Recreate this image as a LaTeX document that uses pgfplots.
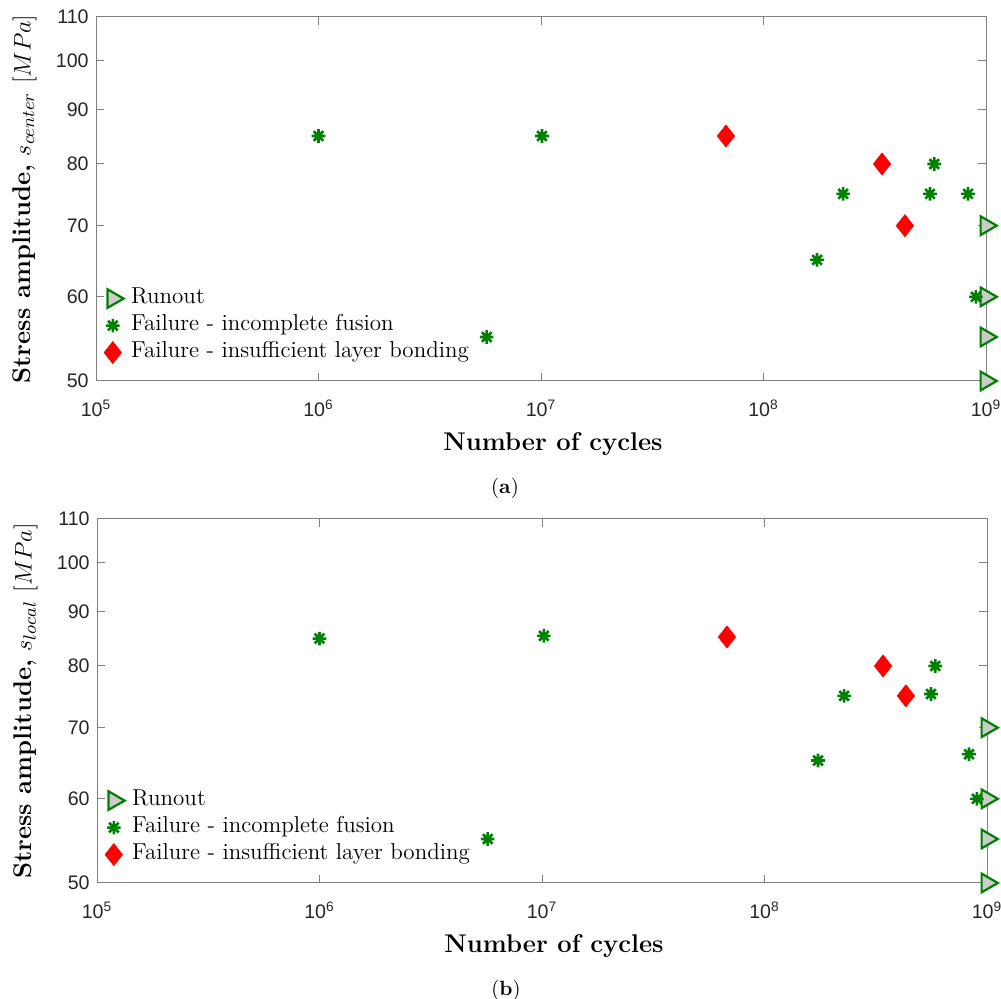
\documentclass[border=0pt]{standalone}
\usepackage{fontspec}
\newfontfamily\ticksf{Liberation Sans}
\usepackage{pgfplots}
\pgfplotsset{compat=1.18}

\definecolor{mgreen}{rgb}{0,0.5,0}
\definecolor{axgray}{rgb}{0.5,0.5,0.5}
\definecolor{tickgray}{rgb}{0.15,0.15,0.15}

% 8-armed asterisk like the MATLAB '*' marker
\pgfdeclareplotmark{ast8}{%
  \pgfpathmoveto{\pgfqpoint{-\pgfplotmarksize}{0pt}}\pgfpathlineto{\pgfqpoint{\pgfplotmarksize}{0pt}}%
  \pgfpathmoveto{\pgfqpoint{0pt}{-\pgfplotmarksize}}\pgfpathlineto{\pgfqpoint{0pt}{\pgfplotmarksize}}%
  \pgfpathmoveto{\pgfqpoint{-0.707\pgfplotmarksize}{-0.707\pgfplotmarksize}}\pgfpathlineto{\pgfqpoint{0.707\pgfplotmarksize}{0.707\pgfplotmarksize}}%
  \pgfpathmoveto{\pgfqpoint{-0.707\pgfplotmarksize}{0.707\pgfplotmarksize}}\pgfpathlineto{\pgfqpoint{0.707\pgfplotmarksize}{-0.707\pgfplotmarksize}}%
  \pgfusepathqstroke}

\pgfplotsset{
  snplot/.style={
    scale only axis, width=445pt, height=182pt,
    xmin=1e5, xmax=1e9, ymin=50, ymax=110,
    xtick={1e5,1e6,1e7,1e8,1e9},
    xticklabels={10\textsuperscript{5},10\textsuperscript{6},10\textsuperscript{7},10\textsuperscript{8},10\textsuperscript{9}},
    ytick={50,60,70,80,90,100,110},
    yticklabels={50,60,70,80,90,100,110},
    xminorticks=false, yminorticks=false,
    tick align=inside, major tick length=4pt,
    axis line style={axgray, line width=0.5pt},
    every tick/.style={axgray, line width=0.5pt},
    ticklabel style={font=\ticksf\fontsize{9.8}{11}\selectfont, text=tickgray},
    xticklabel style={anchor=base, inner sep=0pt, yshift=-18pt},
    yticklabel style={anchor=east, inner sep=0pt, xshift=-3.5pt},
    label style={font=\fontsize{12.8}{14}\selectfont},
    xlabel style={at={(axis description cs:0.5135,-0.1923)}, anchor=base},
    ylabel style={at={(axis description cs:-0.0735,0.5)}, anchor=base},
    clip=false,
    legend cell align=left,
    legend style={at={(axis description cs:0,0.0398)}, anchor=south west,
      draw=none, fill=none, font=\fontsize{11.5}{13.5}\selectfont,
      row sep=0pt, inner sep=0pt,
      nodes={inner sep=0pt, text height=9pt, text depth=4.5pt}},
    legend image code/.code={%
      \path (-8pt,0pt) (9pt,0pt);
      \draw[mark repeat=2,mark phase=2,##1] plot coordinates {(-8pt,0pt)(0pt,0pt)(8pt,0pt)};},
  },
  runout/.style={only marks, mark=triangle*, mark size=5.4pt,
    mark options={rotate=-90, draw=mgreen, fill=black!20, line width=1.1pt}},
  fusion/.style={only marks, mark=ast8, mark size=3.4pt,
    mark options={draw=mgreen, line width=1.3pt}},
  bonding/.style={only marks, mark=diamond*, mark size=5.6pt,
    mark options={draw=red, fill=red, line width=0.2pt, xscale=1.05}},
}

\begin{document}
\begin{tikzpicture}

% (a) stress at the centre
\begin{loglogaxis}[snplot, at={(48pt,308.5pt)}, anchor=south west,
  xlabel={\textbf{Number of cycles}},
  ylabel={\textbf{Stress amplitude,} $s_{center}$ $[MPa]$}]
\addplot[runout] coordinates {(1e9,70) (1e9,60) (1e9,55) (1e9,50)};
\addlegendentry{Runout}
\addplot[fusion] coordinates {
(1e6,85) (5.7e6,55) (1.01e7,85) (1.74e8,65) (2.28e8,75)
(5.6e8,75) (5.85e8,80) (8.3e8,75) (9.0e8,60)};
\addlegendentry{Failure - incomplete fusion}
\addplot[bonding] coordinates {(6.78e7,85) (3.41e8,80) (4.32e8,70)};
\addlegendentry{Failure - insufficient layer bonding}
\end{loglogaxis}
\node[font=\fontsize{10.3}{12}\selectfont, anchor=base, inner sep=0pt] at (252.5pt,252.5pt) {(\textbf{a})};

% (b) local stress
\begin{loglogaxis}[snplot, at={(48.5pt,57.5pt)}, anchor=south west,
  xlabel={\textbf{Number of cycles}},
  ylabel={\textbf{Stress amplitude,} $s_{local}$ $[MPa]$}]
\addplot[runout] coordinates {(1e9,70) (1e9,60) (1e9,55) (1e9,50)};
\addlegendentry{Runout}
\addplot[fusion] coordinates {
(1e6,84.9) (5.7e6,55) (1.02e7,85.4) (1.74e8,65.2) (2.28e8,75)
(5.6e8,75.3) (5.85e8,80) (8.3e8,66.1) (9.0e8,60)};
\addlegendentry{Failure - incomplete fusion}
\addplot[bonding] coordinates {(6.78e7,85.2) (3.41e8,80) (4.32e8,75)};
\addlegendentry{Failure - insufficient layer bonding}
\end{loglogaxis}
\node[font=\fontsize{10.3}{12}\selectfont, anchor=base, inner sep=0pt] at (253pt,1.5pt) {(\textbf{b})};

\pgfresetboundingbox
\useasboundingbox (0pt,0pt) rectangle (500.5pt,499pt);
\end{tikzpicture}
\end{document}
